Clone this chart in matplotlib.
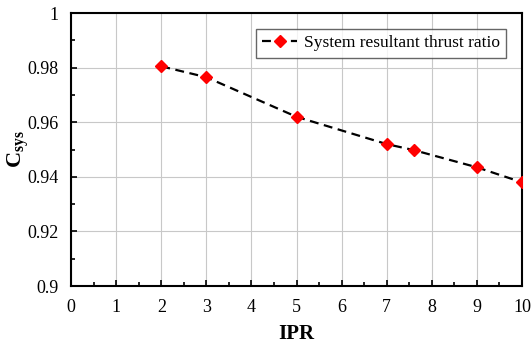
import matplotlib
matplotlib.use("Agg")
import matplotlib.pyplot as plt
from matplotlib.ticker import MultipleLocator

plt.rcParams['font.family'] = ['Liberation Serif', 'DejaVu Serif']
plt.rcParams['mathtext.fontset'] = 'custom'
plt.rcParams['mathtext.rm'] = 'Liberation Serif'
plt.rcParams['mathtext.bf'] = 'Liberation Serif:bold'
plt.rcParams['mathtext.it'] = 'Liberation Serif:italic'

ipr = [2, 3, 5, 7, 7.6, 9, 10]
csys = [0.9805, 0.9765, 0.962, 0.952, 0.9498, 0.9435, 0.938]
series_label = "System resultant thrust ratio"
yticks = [0.9, 0.92, 0.94, 0.96, 0.98, 1.0]
ytick_labels = ['0.9', '0.92', '0.94', '0.96', '0.98', '1']

fig = plt.figure(figsize=(5.31, 3.45), dpi=100)
ax = fig.add_axes([0.134, 0.171, 0.849, 0.791])

ax.plot(ipr, csys, color='black', linestyle=(0, (4, 2.5)), linewidth=1.6,
        marker='D', markersize=6.5, markerfacecolor='red', markeredgecolor='red',
        label=series_label, zorder=3)

ax.set_xlim(0, 10)
ax.set_ylim(0.9, 1.0)
ax.xaxis.set_major_locator(MultipleLocator(1))
ax.xaxis.set_minor_locator(MultipleLocator(0.5))
ax.set_yticks(yticks)
ax.set_yticklabels(ytick_labels)
ax.yaxis.set_minor_locator(MultipleLocator(0.01))

ax.grid(True, which='major', color='#c8c8c8', linewidth=0.8)
ax.set_axisbelow(True)
ax.tick_params(which='both', direction='in', labelsize=13, colors='black')
ax.tick_params(which='major', length=4, width=1.2, pad=9)
ax.tick_params(which='minor', length=3, width=1.2)
for s in ax.spines.values():
    s.set_linewidth(1.5)

ax.set_xlabel('IPR', fontsize=15, fontweight='bold', labelpad=6)
ax.set_ylabel(r'$\mathbf{C_{sys}}$', fontsize=16)
ax.yaxis.set_label_coords(-0.09, 0.5)

leg = ax.legend(loc='upper right', bbox_to_anchor=(0.965, 0.941), fontsize=12.5,
                frameon=True, fancybox=False, handlelength=2.0, borderaxespad=0,
                borderpad=0.35, handletextpad=0.4)
leg.get_frame().set_edgecolor('#404040')
leg.get_frame().set_linewidth(1.0)

fig.savefig('out.png', dpi=100)
